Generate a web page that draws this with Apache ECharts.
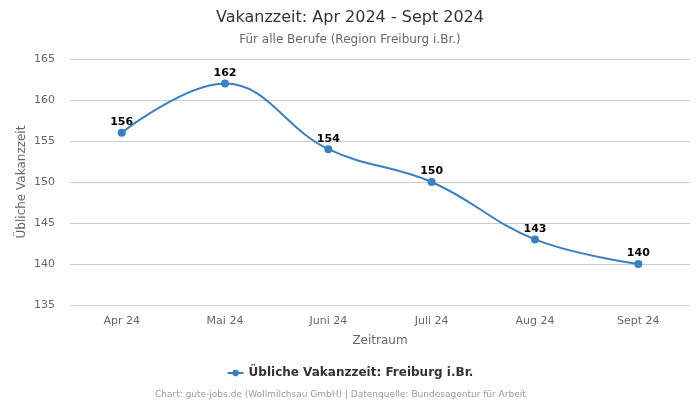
<!DOCTYPE html>
<html><head><meta charset="utf-8">
<script src="https://cdn.jsdelivr.net/npm/echarts@6/dist/echarts.min.js"></script>
<style>html,body{margin:0;padding:0;background:#fff}#c{width:700px;height:400px}</style>
</head><body><div id="c"></div>
<script>
const categories = ['Apr 24','Mai 24','Juni 24','Juli 24','Aug 24','Sept 24'];
const values = [156, 162, 154, 150, 143, 140];
const seriesName = 'Übliche Vakanzzeit: Freiburg i.Br.';
const font = 'DejaVu Sans';
const chart = echarts.init(document.getElementById('c'), null, {renderer:'canvas'});
chart.setOption({
  animation:false,
  textStyle:{fontFamily:font},
  title:[
    {text:'Vakanzzeit: Apr 2024 - Sept 2024', left:'center', top:5, textStyle:{fontFamily:font,fontSize:16,fontWeight:'normal',color:'#333'}},
    {text:'Für alle Berufe (Region Freiburg i.Br.)', left:'center', top:29, textStyle:{fontFamily:font,fontSize:12,fontWeight:'normal',color:'#666'}},
    {text:'Chart: gute-jobs.de (Wollmilchsau GmbH) | Datenquelle: Bundesagentur für Arbeit', left:150, top:385, textStyle:{fontFamily:font,fontSize:9,fontWeight:'normal',color:'#999'}}
  ],
  legend:{bottom:16, left:'center', itemWidth:16, itemHeight:8, itemGap:8, data:[seriesName], textStyle:{fontFamily:font,fontSize:12,fontWeight:'bold',color:'#333'}},
  grid:{left:70,right:10,top:59,bottom:95},
  xAxis:{type:'category', data:categories, boundaryGap:true,
    name:'Zeitraum', nameLocation:'middle', nameGap:30, nameTextStyle:{fontFamily:font,fontSize:12,color:'#666'},
    axisLine:{lineStyle:{color:'#ccd6eb'}}, axisTick:{show:false},
    axisLabel:{fontFamily:font,fontSize:11,color:'#666',margin:11}},
  yAxis:{type:'value', min:135, max:165, interval:5,
    name:'Übliche Vakanzzeit', nameLocation:'middle', nameGap:42, nameMoveOverlap:false, nameTextStyle:{fontFamily:font,fontSize:12,color:'#666'},
    axisLine:{show:false}, axisTick:{show:false},
    axisLabel:{fontFamily:font,fontSize:11,color:'#666',margin:15},
    splitLine:{lineStyle:{color:'#cccccc'}}},
  series:[{name:seriesName, type:'line', data:values, smooth:0.4,
    symbol:'circle', symbolSize:8, color:'#3a80bf', lineStyle:{width:2},
    label:{show:true, position:'top', distance:1, fontFamily:font, fontSize:11, fontWeight:'bold', color:'#000'}}]
});
</script></body></html>
